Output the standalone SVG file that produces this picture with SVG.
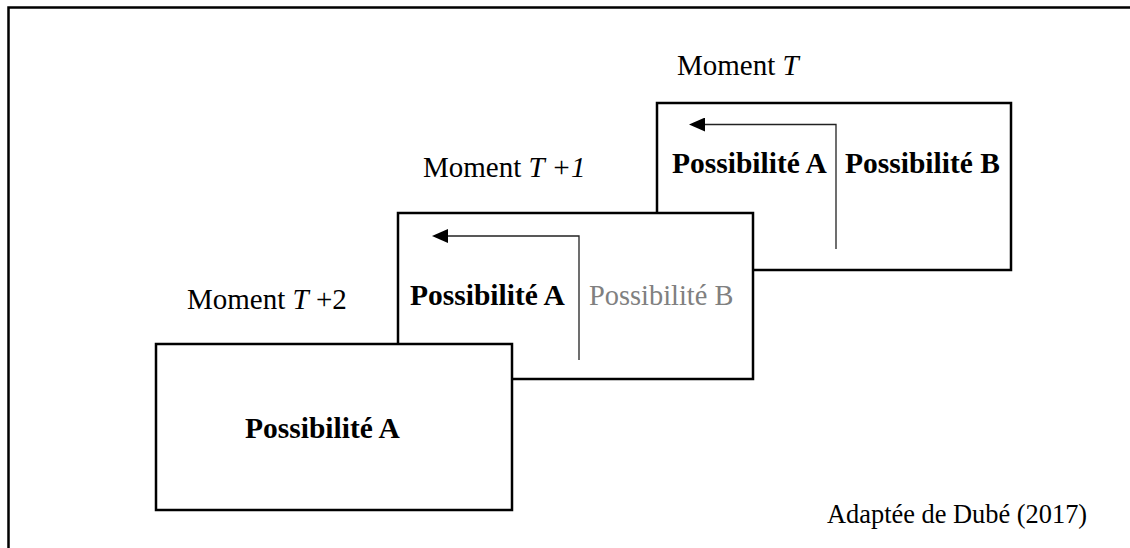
<svg xmlns="http://www.w3.org/2000/svg" width="1130" height="548" viewBox="0 0 1130 548">
<style>
.frame{fill:none;stroke:#000;stroke-width:2.5}
.box{fill:#fff;stroke:#000;stroke-width:2.5}
text{font-family:'Liberation Serif','Times New Roman',serif;font-size:29px;fill:#000}
.b{font-weight:bold;font-size:29.5px}
.grey{fill:#808080;font-size:28.4px}
.src{font-size:26.4px}
.conn{fill:none;stroke:#222;stroke-width:1.3}
</style>
<defs>
<marker id="ah" viewBox="0 0 16 14" refX="0" refY="7" markerWidth="16" markerHeight="14" markerUnits="userSpaceOnUse" orient="auto">
<path d="M0,0 L16,7 L0,14 z" fill="#000"/>
</marker>
</defs>
<g id="frame">
<path class="frame" d="M8.5,548 V7.5 H1130"/>
</g>
<g id="node-t">
<rect class="box" x="657" y="103" width="354" height="167"/>
<text class="b" x="672" y="173">Possibilité A</text>
<text class="b" x="845" y="173">Possibilité B</text>
</g>
<g id="label-t">
<text x="677" y="75">Moment <tspan font-style="italic">T</tspan></text>
</g>
<g id="node-t1">
<rect class="box" x="398" y="213" width="355" height="166"/>
<text class="b" x="410" y="305">Possibilité A</text>
<text class="grey" x="589" y="305">Possibilité B</text>
</g>
<g id="label-t1">
<text x="423" y="177">Moment <tspan font-style="italic">T +1</tspan></text>
</g>
<g id="node-t2">
<rect class="box" x="156" y="344" width="356" height="166"/>
<text class="b" x="245" y="438">Possibilité A</text>
</g>
<g id="label-t2">
<text x="187" y="309">Moment <tspan font-style="italic">T</tspan> +2</text>
</g>
<g id="connectors">
<path class="conn" d="M836,249 V124.5 H705" marker-end="url(#ah)"/>
<path class="conn" d="M579,360 V236 H448" marker-end="url(#ah)"/>
</g>
<g id="source">
<text class="src" x="827" y="523">Adaptée de Dubé (2017)</text>
</g>
</svg>
